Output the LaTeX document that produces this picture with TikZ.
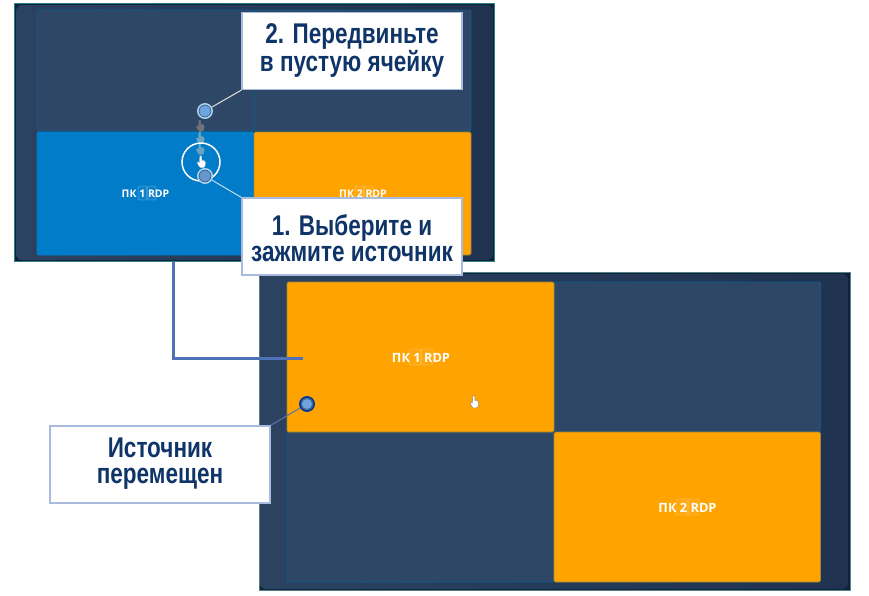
\documentclass[tikz,border=0pt]{standalone}
\usepackage{fontspec}
\setmainfont{Liberation Sans}
\newfontfamily\narrowfont[FakeStretch=0.79]{Liberation Sans}
\newfontfamily\cellfont{Open Sans}
\usetikzlibrary{calc}
\definecolor{calltxt}{HTML}{0F3468}
\definecolor{callline}{HTML}{A9BBDD}
\definecolor{panelL}{HTML}{2C4261}
\definecolor{panelR}{HTML}{1F3350}
\definecolor{panelEdge}{HTML}{0C2340}
\definecolor{cellE}{HTML}{2E4767}
\definecolor{cellLine}{HTML}{0B5C8A}
\definecolor{cellO}{HTML}{FFA300}
\definecolor{cellB}{HTML}{007CC8}
\definecolor{conn}{HTML}{4F71B5}
\definecolor{dotfillc}{HTML}{6FA5DE}
\definecolor{dotdark}{HTML}{3F6595}
\tikzset{
  x=1pt,y=-1pt,
  outerp/.style={draw=#1,line width=1pt,fill=panelEdge},
  innerp/.style={left color=panelL,right color=panelR,rounded corners=6pt},
  cellbox/.style={draw=cellLine,line width=0.8pt,fill=#1,rounded corners=1.5pt},
  callout/.style={draw=callline,line width=1.2pt,fill=white,text=calltxt,inner sep=0pt,align=center,
     minimum width=220pt,minimum height=77pt,text depth=0pt,
     font=\narrowfont\bfseries\fontsize{28.5}{26}\selectfont},
  calltext/.style={text=calltxt,inner sep=0pt,align=center,font=\narrowfont\bfseries\fontsize{28.5}{26}\selectfont},
  celltxt/.style={text=white,inner sep=0pt,font=\cellfont\bfseries\fontsize{#1}{#1}\selectfont},
  dotA/.style={circle,draw=#1,line width=1.4pt,fill=dotdark,minimum size=14.5pt,inner sep=0pt},
  dotcore/.style={fill=#1,draw=none},
  tie/.style={draw=#1,line width=1pt},
  glyphbox/.style={rounded corners=1.5pt,draw=white,draw opacity=0.22,fill=white,fill opacity=0.05,line width=0.8pt},
}
\newcommand{\handcur}[5]{% x,y,fill,draw,scale
  \begin{scope}[shift={(#1,#2)},x=#5pt,y=-#5pt]
   \filldraw[fill=#3,draw=#4,line width=0.4pt,line join=round]
     (-1.2,-6) .. controls (-0.4,-7) and (0.6,-6.6) .. (0.7,-5.6) -- (0.9,-1.6)
     .. controls (2.5,-2) and (4.6,-1.4) .. (4.6,0.4) -- (4.4,3.4)
     .. controls (4.2,5.4) and (3,6) .. (1.2,6) -- (-0.4,6)
     .. controls (-1.6,5.6) and (-3.6,2.2) .. (-4,0.6)
     .. controls (-4.2,-0.4) and (-2.8,-0.4) .. (-1.6,1) -- cycle;
  \end{scope}}
\begin{document}
\begin{tikzpicture}
\useasboundingbox (0,0) rectangle (869,595);
\fill[white] (0,0) rectangle (869,595);
% top panel
\draw[outerp=teal!60!gray] (14.5,3.5) rectangle (494,261.5);
\path[innerp] (16,5) rectangle (493,260);
\draw[cellbox=cellE] (37,10) rectangle (254,131);
\draw[cellbox=cellE] (254,10) rectangle (471,131);
\draw[cellbox=cellB,draw=cellB] (37,132) rectangle (254,255);
\draw[cellbox=cellO,draw=cellLine!40!cellO] (254,132) rectangle (471,255);
\draw[glyphbox] (138,186) rectangle (147,200);
\draw[glyphbox] (147,186) rectangle (156,200);
\draw[glyphbox] (355,186) rectangle (364,200);
\draw[glyphbox] (364,186) rectangle (373,200);
\node[celltxt=10.5] (t1) at (145.5,193.5) {ПК 1 RDP};
\node[celltxt=10.5] (t2) at (363,193.5) {ПК 2 RDP};
% bottom panel
\draw[outerp=gray!70!teal] (259,272.5) rectangle (850.5,590.5);
\path[innerp] (260,274) rectangle (848,589);
\draw[cellbox=cellE] (554,282) rectangle (820.5,432);
\draw[cellbox=cellE] (287,432) rectangle (554,582);
\draw[cellbox=cellO,draw=cellLine!40!cellO] (287,282) rectangle (554,432);
\draw[cellbox=cellO,draw=cellLine!40!cellO] (554,432) rectangle (820.5,582);
\draw[glyphbox] (409,349) rectangle (421,365);
\draw[glyphbox] (421,349) rectangle (433,365);
\draw[glyphbox] (676,499) rectangle (688,515);
\draw[glyphbox] (688,499) rectangle (699,515);
\node[celltxt=12.8] (t3) at (421,357.5) {ПК 1 RDP};
\node[celltxt=12.8] (t4) at (687.5,507.5) {ПК 2 RDP};
% connector between the panels
\coordinate (cstart) at (173,262);
\coordinate (cend) at (303,358);
\draw[conn,line width=3pt] (cstart) |- (cend);
% cursor trail
\handcur{200}{126}{gray!80!panelL}{gray!80!panelL}{0.9}
\handcur{200}{138}{cyan!45!gray}{cyan!45!gray}{0.9}
\handcur{200}{149}{cyan!45!gray}{cyan!45!gray}{0.9}
\handcur{201}{162}{white}{gray!40}{0.95}
\handcur{474}{402}{white}{gray}{1}
% ring
\node[circle,draw=white,line width=1.5pt,minimum size=38pt,inner sep=0pt] (ring) at (201,162) {};
% dots
\node[dotA=white!70!cellB] (d2) at (205,111) {};
\node[dotA=white!70!cellB] (d1) at (205,176) {};
\node[dotA=blue!40!cellB!70!black] (d3) at (307,404) {};
\fill[dotcore=dotfillc] (d2) circle (5.6pt);
\fill[dotcore=dotfillc!80!dotdark] (d1) circle (5.6pt);
\fill[dotcore=dotfillc] (d3) circle (5pt);
% callouts
\node[callout] (c2) at (352,51) {};
\node[callout] (c1) at (352,236.5) {};
\node[callout] (c3) at (160,464.5) {};
\node[calltext] (l2) at (352,50.5) {2. Передвиньте\\в пустую ячейку};
\node[calltext] (l1) at (352,238) {1. Выберите и\\зажмите источник};
\node[calltext] (l3) at (160,464) {Источник\\перемещен};
\draw[tie=white!75!gray] (d2) -- (c2.south west);
\draw[tie=white!75!cellB] (d1) -- (c1.north west);
\draw[tie=conn!80!gray] (d3) -- (c3.north east);
\end{tikzpicture}
\end{document}
